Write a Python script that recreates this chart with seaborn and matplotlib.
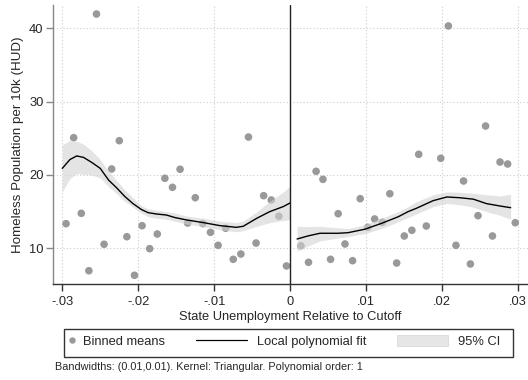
import numpy as np
import pandas as pd
import matplotlib
matplotlib.use("Agg")
import matplotlib.pyplot as plt
import seaborn as sns
from matplotlib.lines import Line2D
from matplotlib.patches import Patch, Rectangle
from matplotlib.legend_handler import HandlerBase

# ---------------- data ----------------
left_bin_x = [-0.0295, -0.0285, -0.0275, -0.0265, -0.0255, -0.0245, -0.0235, -0.0225,
              -0.0215, -0.0205, -0.0195, -0.0185, -0.0175, -0.0165, -0.0155, -0.0145,
              -0.0135, -0.0125, -0.0115, -0.0105, -0.0095, -0.0085, -0.0075, -0.0065,
              -0.0055, -0.0045, -0.0035, -0.0025, -0.0015, -0.0005]
left_bin_y = [13.36, 25.09, 14.77, 6.94, 41.96, 10.55, 20.82, 24.68, 11.58, 6.32,
              13.08, 9.95, 11.95, 19.55, 18.32, 20.78, 13.45, 16.90, 13.36, 12.18,
              10.41, 12.73, 8.50, 9.22, 25.18, 10.72, 17.18, 16.59, 14.37, 7.59]

right_bin_x = [0.0014, 0.0024, 0.0034, 0.0043, 0.0053, 0.0063, 0.0072, 0.0082, 0.0092,
               0.0102, 0.0111, 0.0121, 0.0131, 0.0140, 0.0150, 0.0160, 0.0169, 0.0179,
               0.0198, 0.0208, 0.0218, 0.0228, 0.0237, 0.0247, 0.0257, 0.0266, 0.0276,
               0.0286, 0.0296]
right_bin_y = [10.35, 8.09, 20.50, 19.41, 8.50, 14.72, 10.59, 8.31, 16.77, 12.86,
               14.00, 13.55, 17.45, 7.99, 11.68, 12.46, 22.82, 13.04, 22.28, 40.33,
               10.41, 19.18, 7.86, 14.45, 26.68, 11.68, 21.77, 21.50, 13.49]

left_fit_x = [-0.0300, -0.0290, -0.0281, -0.0272, -0.0261, -0.0250, -0.0239, -0.0228,
              -0.0218, -0.0207, -0.0196, -0.0187, -0.0176, -0.0163, -0.0152, -0.0136,
              -0.0114, -0.0093, -0.0071, -0.0062, -0.0044, -0.0027, -0.0009, 0.0000]
left_fit_y = [20.9, 22.1, 22.6, 22.4, 21.7, 20.9, 19.3, 18.2, 17.1, 16.1, 15.3, 14.86,
              14.68, 14.54, 14.2, 13.86, 13.5, 13.1, 12.86, 13.0, 14.1, 15.0, 15.7, 16.2]
left_ci_lo = [17.7, 19.5, 20.2, 20.1, 20.0, 19.6, 18.4, 17.4, 16.4, 15.6, 14.8, 14.3,
              14.1, 13.95, 13.7, 13.3, 12.95, 12.55, 12.25, 12.4, 13.0, 13.5, 13.8, 13.9]
left_ci_hi = [24.1, 24.7, 24.6, 24.2, 23.3, 22.1, 20.5, 19.2, 18.0, 16.9, 15.8, 15.4,
              15.2, 15.0, 14.8, 14.4, 14.1, 13.7, 13.5, 13.7, 15.0, 16.4, 17.7, 18.5]

right_fit_x = [0.0009, 0.0023, 0.0039, 0.0063, 0.0076, 0.0098, 0.0120, 0.0142, 0.0155,
               0.0166, 0.0188, 0.0206, 0.0223, 0.0241, 0.0258, 0.0276, 0.0290]
right_fit_y = [11.27, 11.68, 12.05, 12.05, 12.13, 12.6, 13.4, 14.3, 15.0, 15.46, 16.5,
               17.0, 16.9, 16.7, 16.1, 15.77, 15.54]
right_ci_lo = [9.6, 10.3, 11.0, 11.4, 11.6, 12.0, 12.7, 13.6, 14.2, 14.68, 15.7, 16.1,
               15.95, 15.6, 15.0, 14.5, 13.95]
right_ci_hi = [13.0, 12.95, 13.0, 12.8, 12.7, 13.2, 14.1, 15.0, 15.7, 16.36, 17.3, 17.7,
               17.65, 17.5, 17.3, 17.15, 17.37]

x_ticks = [-0.03, -0.02, -0.01, 0.0, 0.01, 0.02, 0.03]
x_tick_labels = ["-.03", "-.02", "-.01", "0", ".01", ".02", ".03"]
y_ticks = [10, 20, 30, 40]
legend_labels = ["Binned means", "Local polynomial fit", "95% CI"]

POINT_COL = "#999999"

# ---------------- legend handlers ----------------
class MarkerRightHandler(HandlerBase):
    def create_artists(self, legend, orig_handle, xdescent, ydescent, width, height,
                       fontsize, trans):
        m = Line2D([-xdescent + width - 1.0], [height / 2 - ydescent], marker="o",
                   linestyle="none", markersize=4.6, markerfacecolor=POINT_COL,
                   markeredgecolor="none", transform=trans)
        return [m]


class LongLineHandler(HandlerBase):
    def __init__(self, length, **kw):
        super().__init__(**kw)
        self.length = length

    def create_artists(self, legend, orig_handle, xdescent, ydescent, width, height,
                       fontsize, trans):
        y = height / 2 - ydescent
        x1 = -xdescent + width
        ln = Line2D([x1 - self.length, x1], [y, y], color="black", linewidth=0.9,
                    transform=trans)
        return [ln]


class LongPatchHandler(HandlerBase):
    def __init__(self, length, h, **kw):
        super().__init__(**kw)
        self.length = length
        self.h = h

    def create_artists(self, legend, orig_handle, xdescent, ydescent, width, height,
                       fontsize, trans):
        x1 = -xdescent + width
        y0 = -ydescent + (height - self.h) / 2
        r = Rectangle((x1 - self.length, y0), self.length, self.h,
                      facecolor="#e6e6e6", edgecolor="#dadada", linewidth=0.6,
                      transform=trans)
        return [r]


# ---------------- plot ----------------
sns.set_theme(style="white")
plt.rcParams["font.family"] = ["Liberation Sans", "DejaVu Sans"]

fig = plt.figure(figsize=(5.28, 3.80), dpi=100)
ax = fig.add_axes([53.3 / 528, 1 - 284 / 380, 1 - 53.3 / 528, (284 - 5) / 380])

bins = pd.DataFrame({"x": left_bin_x + right_bin_x, "y": left_bin_y + right_bin_y})
sns.scatterplot(data=bins, x="x", y="y", ax=ax, color=POINT_COL, s=30,
                edgecolor="none", zorder=2)

band_col = "#d3d3d3"
for fx, fy, lo, hi in [(left_fit_x, left_fit_y, left_ci_lo, left_ci_hi),
                       (right_fit_x, right_fit_y, right_ci_lo, right_ci_hi)]:
    ax.fill_between(fx, lo, hi, color=band_col, alpha=0.6, linewidth=0, zorder=3)
    sns.lineplot(x=fx, y=fy, ax=ax, color="black", linewidth=1.0, zorder=4,
                 sort=False, estimator=None)

ax.axvline(0, color="#222222", linewidth=1.0, zorder=5)

ax.set_xlim(-0.03118, 0.03128)
ax.set_ylim(5.13, 43.19)
ax.set_xticks(x_ticks)
ax.set_xticklabels(x_tick_labels)
ax.set_yticks(y_ticks)
ax.grid(True, color="#cccccc", linestyle=(0, (1, 2)), linewidth=0.8, zorder=0)
ax.set_axisbelow(True)

for s in ["top", "right"]:
    ax.spines[s].set_visible(False)
ax.spines["left"].set_color("#888888")
ax.spines["bottom"].set_color("#333333")
ax.spines["left"].set_linewidth(1.0)
ax.spines["bottom"].set_linewidth(1.0)
ax.tick_params(axis="x", direction="out", length=5, width=1, color="#333333",
               labelsize=9.3, pad=3.5, bottom=True)
ax.tick_params(axis="y", direction="out", length=5, width=1, color="#888888",
               labelsize=9.3, pad=2, left=True)

ax.set_xlabel("State Unemployment Relative to Cutoff", fontsize=9.3, labelpad=2)
ax.set_ylabel("Homeless Population per 10k (HUD)", fontsize=9.6, labelpad=4)

h_marker = Line2D([0], [0], marker="o", linestyle="none", color=POINT_COL)
h_line = Line2D([0], [0], color="black")
h_patch = Patch(facecolor="#e6e6e6")
px2pt = 72 / 100
leg = fig.legend([h_marker, h_line, h_patch], legend_labels,
                 loc="upper left", ncol=3,
                 bbox_to_anchor=(65 / 528, 1 - 329 / 380),
                 frameon=False, fontsize=9.3,
                 handlelength=0.4, handleheight=1.55, handletextpad=0.75,
                 columnspacing=5.95, borderpad=0.25, borderaxespad=0,
                 handler_map={h_marker: MarkerRightHandler(),
                              h_line: LongLineHandler(51 * px2pt),
                              h_patch: LongPatchHandler(51 * px2pt, 11 * px2pt)})

# legend frame box (drawn explicitly to match the reference extent)
fig.patches.append(Rectangle((64 / 528, 1 - 357 / 380), (513 - 64) / 528, 28 / 380,
                             transform=fig.transFigure, fill=False,
                             edgecolor="#333333", linewidth=1.0))

fig.text(55 / 528, 1 - 367 / 380,
         "Bandwidths: (0.01,0.01). Kernel: Triangular. Polynomial order: 1",
         fontsize=7.8, va="center", ha="left")

fig.savefig("out.png", dpi=100)
